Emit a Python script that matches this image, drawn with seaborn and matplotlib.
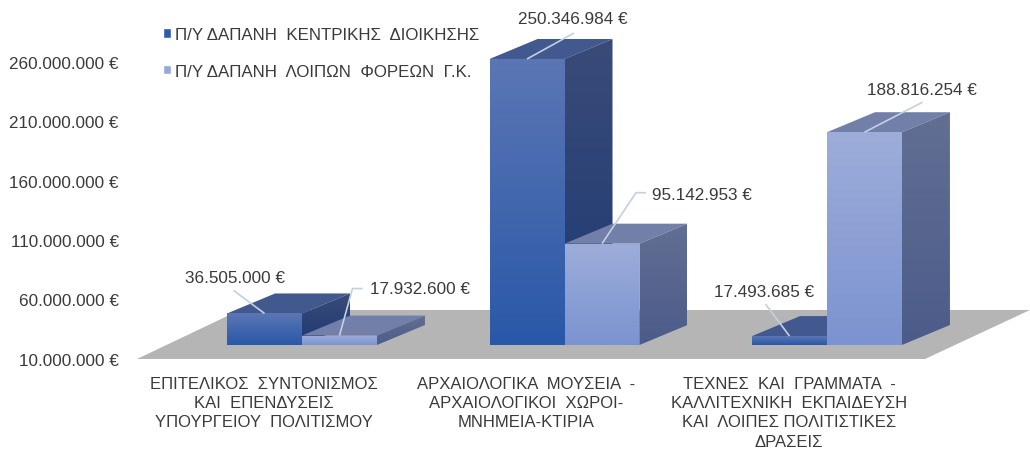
import numpy as np
import pandas as pd
import seaborn as sns
import matplotlib.pyplot as plt
from matplotlib.patches import Polygon, Patch
from matplotlib.transforms import ScaledTranslation
from matplotlib.colors import to_rgb

categories = [
    "ΕΠΙΤΕΛΙΚΟΣ  ΣΥΝΤΟΝΙΣΜΟΣ\nΚΑΙ  ΕΠΕΝΔΥΣΕΙΣ\nΥΠΟΥΡΓΕΙΟΥ  ΠΟΛΙΤΙΣΜΟΥ",
    "ΑΡΧΑΙΟΛΟΓΙΚΑ  ΜΟΥΣΕΙΑ  -\nΑΡΧΑΙΟΛΟΓΙΚΟΙ  ΧΩΡΟΙ-\nΜΝΗΜΕΙΑ-ΚΤΙΡΙΑ",
    "ΤΕΧΝΕΣ  ΚΑΙ  ΓΡΑΜΜΑΤΑ  -\nΚΑΛΛΙΤΕΧΝΙΚΗ  ΕΚΠΑΙΔΕΥΣΗ\nΚΑΙ  ΛΟΙΠΕΣ ΠΟΛΙΤΙΣΤΙΚΕΣ\nΔΡΑΣΕΙΣ",
]
central = [36505000, 250346984, 17493685]
others = [17932600, 95142953, 188816254]
series_names = ["Π/Υ ΔΑΠΑΝΗ  ΚΕΝΤΡΙΚΗΣ  ΔΙΟΙΚΗΣΗΣ", "Π/Υ ΔΑΠΑΝΗ  ΛΟΙΠΩΝ  ΦΟΡΕΩΝ  Γ.Κ."]
y_ticks = [10000000, 60000000, 110000000, 160000000, 210000000, 260000000]
base = 10000000


def euro(v):
    return f"{v:,}".replace(",", ".") + " €"


sns.set_style("white")
plt.rcParams["font.family"] = ["Liberation Sans", "DejaVu Sans"]
text_col = "#3a3a3a"

df = pd.DataFrame({
    "cat": categories * 2,
    "value": central + others,
    "series": [series_names[0]] * 3 + [series_names[1]] * 3,
})

fig = plt.figure(figsize=(10.3, 4.52), dpi=100)
ax = fig.add_axes([125 / 1030, (452 - 360) / 452, (1030 - 125) / 1030, 360 / 452])

# pixels to data units
PXX = 1 / 262.5
PXY = 1e6 / 1.19
xlim = (-177 * PXX, 2 + 203 * PXX)
ylim = (base - 14 * PXY, base + 346 * PXY)

sns.barplot(data=df, x="cat", y="value", hue="series", hue_order=series_names,
            width=0.571, gap=0, legend=False, ax=ax, zorder=3,
            palette=["#3f68b0", "#8ea3d9"])

dark_cols = {"front": ("#5b76b4", "#2a58a8"), "side": ("#3a4b78", "#1e3a75"), "top": "#42598f"}
light_cols = {"front": ("#9dadda", "#7b93d0"), "side": ("#626f93", "#4c5c8a"), "top": "#727fa8"}
depth_x = 48 * PXX
depth_y = 20 * PXY

# floor
ax.add_patch(Polygon([(-165 * PXX, base - 14 * PXY), (2 + 98 * PXX, base - 14 * PXY),
                      (2 + 203 * PXX, base + 35 * PXY), (-62 * PXX, base + 35 * PXY)],
                     closed=True, fc="#b5b5b5", ec="none", zorder=1))


def gradient_poly(pts, top, bottom, z):
    pts = np.array(pts)
    poly = Polygon(pts, closed=True, fc="none", ec="none", zorder=z)
    ax.add_patch(poly)
    c0, c1 = np.array(to_rgb(top)), np.array(to_rgb(bottom))
    t = np.linspace(0, 1, 64)[:, None]
    grad = (c0 * (1 - t) + c1 * t)[:, None, :]
    im = ax.imshow(grad, extent=(pts[:, 0].min(), pts[:, 0].max(), pts[:, 1].min(), pts[:, 1].max()),
                   origin="upper", aspect="auto", zorder=z, interpolation="bilinear")
    im.set_clip_path(poly)


# 3d look built on the bars seaborn drew
z = 3
for container, cols in zip(ax.containers, [dark_cols, light_cols]):
    for bar in container:
        top_val = bar.get_height()
        bar.set_y(base)
        bar.set_height(top_val - base)
        bar.set_edgecolor("none")
        bar.set_zorder(z + 0.3)
        x0, x1 = bar.get_x(), bar.get_x() + bar.get_width()
        ax.add_patch(Polygon([(x0, top_val), (x1, top_val), (x1 + depth_x, top_val + depth_y),
                              (x0 + depth_x, top_val + depth_y)], closed=True,
                             fc=cols["top"], ec="none", zorder=z))
        gradient_poly([(x1, base), (x1 + depth_x, base + depth_y), (x1 + depth_x, top_val + depth_y),
                       (x1, top_val)], cols["side"][0], cols["side"][1], z + 0.1)
        gradient_poly([(x0, base), (x1, base), (x1, top_val), (x0, top_val)],
                      cols["front"][0], cols["front"][1], z + 0.4)
        z += 1

ax.set_xlim(xlim)
ax.set_ylim(ylim)

# leader line bends and label spot, in pixels from the top centre of each bar
leaders = [
    [[(-31, 23)], [(47, 26)], [(-24, 32)]],
    [[(13, 47), (23, 47)], [(34, 51), (44, 51)], [(58, 30)]],
]
label_spots = [
    [(-30, 36, "center"), (46, 40, "center"), (-25, 45, "center")],
    [(31, 47, "left"), (50, 49, "left"), (57, 43, "center")],
]
for s, container in enumerate(ax.containers):
    values = [central, others][s]
    for i, bar in enumerate(container):
        cx = bar.get_x() + bar.get_width() / 2
        cy = values[i]
        xs = [cx] + [cx + p[0] * PXX for p in leaders[s][i]]
        ys = [cy] + [cy + p[1] * PXY for p in leaders[s][i]]
        ax.plot(xs, ys, color="#c3d0e0", lw=1.2, zorder=40, solid_capstyle="butt")
        dx, dy, ha = label_spots[s][i]
        ax.text(cx + dx * PXX, cy + dy * PXY, euro(values[i]), ha=ha, va="center",
                fontsize=12.3, color=text_col, zorder=41)

ax.set_yticks(y_ticks)
ax.set_yticklabels([euro(v) for v in y_ticks])
ax.tick_params(axis="y", length=0, pad=4.5, labelsize=12.3, labelcolor=text_col)
ax.tick_params(axis="x", length=0, pad=12, labelsize=12, labelcolor=text_col)
ax.set_xlabel("")
ax.set_ylabel("")

y_shift = ScaledTranslation(0, -14 / 100, fig.dpi_scale_trans)
for lab in ax.get_yticklabels():
    lab.set_transform(lab.get_transform() + y_shift)
x_shift = ScaledTranslation(-38 / 100, 0, fig.dpi_scale_trans)
for lab in ax.get_xticklabels():
    lab.set_transform(lab.get_transform() + x_shift)
    lab.set_linespacing(1.36)

sns.despine(ax=ax, left=True, bottom=True)
ax.patch.set_alpha(0)

handles = [Patch(fc="#2f5ca8"), Patch(fc="#94a8dc")]
leg = ax.legend(handles, series_names, loc="upper left", frameon=False,
                bbox_to_anchor=(163 / 1030, 1 - 28 / 452), bbox_transform=fig.transFigure,
                borderaxespad=0, borderpad=0, handlelength=0.5, handleheight=0.5,
                handletextpad=0.2, labelspacing=1.27, prop={"size": 12.2})
for t in leg.get_texts():
    t.set_color(text_col)
leg.set_zorder(50)

fig.savefig("out.png", dpi=100)
